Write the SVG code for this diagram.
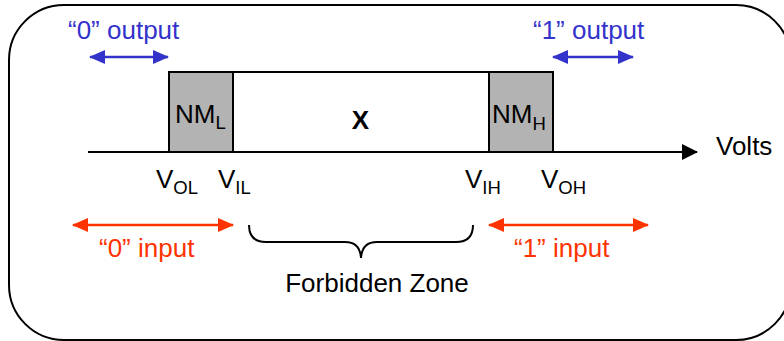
<svg xmlns="http://www.w3.org/2000/svg" width="784" height="341" viewBox="0 0 784 341">
<defs>
<style>
text{font-family:"Liberation Sans",Arial,sans-serif;font-size:26px;fill:#000}
.sub{font-size:18.5px}
.blue{fill:#3333cc}
.red{fill:#ff3300}
.ln{stroke:#000;stroke-width:2;fill:none}
</style>
<marker id="bh" viewBox="0 0 16 14" refX="15" refY="7" markerWidth="16" markerHeight="14" markerUnits="userSpaceOnUse" orient="auto-start-reverse"><path d="M0,0L16,7L0,14z" fill="#3333cc"/></marker>
<marker id="rh" viewBox="0 0 16 14" refX="15" refY="7" markerWidth="16" markerHeight="14" markerUnits="userSpaceOnUse" orient="auto-start-reverse"><path d="M0,0L16,7L0,14z" fill="#ff3300"/></marker>
<marker id="kh" viewBox="0 0 16 16" refX="15" refY="8" markerWidth="16" markerHeight="16" markerUnits="userSpaceOnUse" orient="auto"><path d="M0,0L16,8L0,16z" fill="#000"/></marker>
</defs>
<rect x="9" y="5" width="782" height="335" rx="55" ry="55" class="ln"/>
<g id="boxes">
<g id="nml"><rect x="169" y="72" width="64" height="80" fill="#b3b3b3" stroke="#000" stroke-width="2"/><text x="175" y="123">NM<tspan class="sub" dy="6">L</tspan></text></g>
<g id="forbidden"><rect x="233" y="72" width="256" height="80" fill="#fff" stroke="#000" stroke-width="2"/><text x="360.5" y="129" text-anchor="middle" font-weight="bold" font-size="31">X</text></g>
<g id="nmh"><rect x="489" y="72" width="64" height="80" fill="#b3b3b3" stroke="#000" stroke-width="2"/><text x="492" y="123">NM<tspan class="sub" dy="7">H</tspan></text></g>
</g>
<g id="connectors">
<line x1="88" y1="152" x2="697" y2="152" class="ln" marker-end="url(#kh)"/>
<line x1="90" y1="57" x2="168" y2="57" stroke="#3333cc" stroke-width="2.5" marker-start="url(#bh)" marker-end="url(#bh)"/>
<line x1="553" y1="57" x2="633" y2="57" stroke="#3333cc" stroke-width="2.5" marker-start="url(#bh)" marker-end="url(#bh)"/>
<line x1="73" y1="225" x2="233" y2="225" stroke="#ff3300" stroke-width="2.5" marker-start="url(#rh)" marker-end="url(#rh)"/>
<line x1="489" y1="225" x2="648" y2="225" stroke="#ff3300" stroke-width="2.5" marker-start="url(#rh)" marker-end="url(#rh)"/>
<path d="M249,225 Q249,242 266,242 L345,242 Q360,242 361,258 Q362,242 377,242 L456,242 Q473,242 473,225" class="ln"/>
</g>
<g id="labels">
<text x="716" y="155">Volts</text>
<text x="68" y="39" class="blue">“0” output</text>
<text x="533" y="39" class="blue">“1” output</text>
<text x="99" y="257" class="red">“0” input</text>
<text x="514" y="257" class="red">“1” input</text>
<text x="377" y="292" text-anchor="middle">Forbidden Zone</text>
<text x="156" y="188">V<tspan class="sub" dy="6">OL</tspan></text>
<text x="218" y="188">V<tspan class="sub" dy="6">IL</tspan></text>
<text x="465" y="188">V<tspan class="sub" dy="6">IH</tspan></text>
<text x="541" y="188">V<tspan class="sub" dy="6">OH</tspan></text>
</g>
</svg>
